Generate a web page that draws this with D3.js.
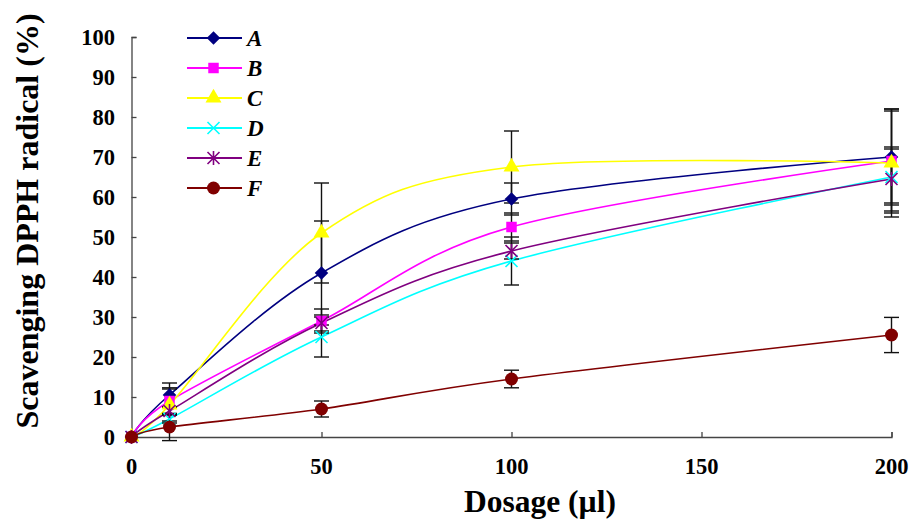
<!DOCTYPE html>
<html>
<head>
<meta charset="utf-8">
<script src="https://cdn.jsdelivr.net/npm/d3@7"></script>
<style>
  body { margin: 0; background: #fff; }
  svg text { font-family: "Liberation Serif", "Times New Roman", serif; font-weight: bold; }
</style>
</head>
<body>
<script>
// dosage (ul) on x
const dosage = [0, 10, 50, 100, 200];
const names = ["A", "B", "C", "D", "E", "F"];
const valuesA = [0, 10.5, 41, 59.5, 70];
const valuesB = [0, 9, 29, 52.5, 69];
const valuesC = [0, 8, 51, 67.5, 68.5];
const valuesD = [0, 4.5, 25, 44, 65];
const valuesE = [0, 6.5, 28.5, 46.5, 64.5];
const valuesF = [0, 2.5, 7, 14.5, 25.5];
const errA = [0, 3, 13, 4, 11.5];
const errB = [0, 3.3, 3, 3.5, 13];
const errC = [0, 4, 12.5, 9, 13.5];
const errD = [0, 1, 5, 6, 7];
const errE = [0, 1, 2, 2, 8];
const errF = [0, 3.4, 2, 2.2, 4.4];
const yTicks = [0, 10, 20, 30, 40, 50, 60, 70, 80, 90, 100];
const xTicks = [0, 50, 100, 150, 200];

const colors = ["#000080", "#ff00ff", "#ffff00", "#00ffff", "#800080", "#800000"];
const shapes = ["diamond", "square", "triangle", "cross", "star", "circle"];
const allValues = [valuesA, valuesB, valuesC, valuesD, valuesE, valuesF];
const allErr = [errA, errB, errC, errD, errE, errF];

const width = 911, height = 521;

const svg = d3.select("body").append("svg")
  .attr("width", width)
  .attr("height", height);

const x = d3.scaleLinear().domain([0, 200]).range([131.5, 891.5]);
const y = d3.scaleLinear().domain([0, 100]).range([437, 37]);

// axes
const yAxis = svg.append("g")
  .attr("transform", `translate(${x(0)},0)`)
  .call(d3.axisRight(y).tickValues(yTicks).tickSize(5).tickFormat(""));
const xAxis = svg.append("g")
  .attr("transform", `translate(0,${y(0)})`)
  .call(d3.axisTop(x).tickValues(xTicks).tickSize(5).tickFormat(""));
[yAxis, xAxis].forEach(g => {
  g.select(".domain").attr("stroke", "#444").attr("stroke-width", 1.3);
  g.selectAll(".tick line").attr("stroke", "#444").attr("stroke-width", 1.3);
});
xAxis.selectAll(".tick").filter(d => d === 0).select("line").remove();

svg.append("g").selectAll("text")
  .data(yTicks)
  .join("text")
  .attr("x", 115)
  .attr("y", d => y(d))
  .attr("dy", "0.35em")
  .attr("text-anchor", "end")
  .attr("font-size", 22.5)
  .text(d => d);

svg.append("g").selectAll("text")
  .data(xTicks)
  .join("text")
  .attr("x", d => x(d))
  .attr("y", 474)
  .attr("text-anchor", "middle")
  .attr("font-size", 22.5)
  .text(d => d);

svg.append("text")
  .attr("x", 540)
  .attr("y", 512)
  .attr("text-anchor", "middle")
  .attr("font-size", 31.5)
  .text("Dosage (\u00b5l)");

svg.append("text")
  .attr("transform", "translate(38,221) rotate(-90)")
  .attr("text-anchor", "middle")
  .attr("font-size", 32)
  .text("Scavenging DPPH radical (%)");

// lines
const line = d3.line()
  .x(d => x(d[0]))
  .y(d => y(d[1]))
  .curve(d3.curveCardinal.tension(0));

const lineG = svg.append("g");
allValues.forEach((vals, i) => {
  lineG.append("path")
    .attr("d", line(dosage.map((d, j) => [d, vals[j]])))
    .attr("fill", "none")
    .attr("stroke", colors[i])
    .attr("stroke-width", 1.6);
});

// error bars
const errG = svg.append("g").attr("stroke", "#111").attr("stroke-width", 1.4);
allValues.forEach((vals, i) => {
  dosage.forEach((d, j) => {
    const e = allErr[i][j];
    if (!e) return;
    const cx = x(d), top = y(vals[j] + e), bot = y(vals[j] - e);
    errG.append("line").attr("x1", cx).attr("x2", cx).attr("y1", top).attr("y2", bot);
    errG.append("line").attr("x1", cx - 7.5).attr("x2", cx + 7.5).attr("y1", top).attr("y2", top);
    errG.append("line").attr("x1", cx - 7.5).attr("x2", cx + 7.5).attr("y1", bot).attr("y2", bot);
  });
});

function drawMarker(g, shape, color, cx, cy) {
  if (shape === "diamond") {
    g.append("path").attr("d", d3.symbol(d3.symbolSquare, 92)())
      .attr("transform", `translate(${cx},${cy}) rotate(45)`).attr("fill", color);
  } else if (shape === "square") {
    g.append("path").attr("d", d3.symbol(d3.symbolSquare, 110)())
      .attr("transform", `translate(${cx},${cy})`).attr("fill", color);
  } else if (shape === "triangle") {
    g.append("path").attr("d", d3.symbol(d3.symbolTriangle, 110)())
      .attr("transform", `translate(${cx},${cy})`).attr("fill", color);
  } else if (shape === "cross") {
    g.append("path").attr("d", "M-6,-6L6,6M-6,6L6,-6")
      .attr("transform", `translate(${cx},${cy})`).attr("stroke", color).attr("stroke-width", 1.6);
  } else if (shape === "star") {
    g.append("path").attr("d", "M-6,-6L6,6M-6,6L6,-6M0,-7L0,7")
      .attr("transform", `translate(${cx},${cy})`).attr("stroke", color).attr("stroke-width", 1.6);
  } else {
    g.append("circle").attr("cx", cx).attr("cy", cy).attr("r", 6.5).attr("fill", color);
  }
}

const markG = svg.append("g");
allValues.forEach((vals, i) => {
  dosage.forEach((d, j) => drawMarker(markG, shapes[i], colors[i], x(d), y(vals[j])));
});

// legend
const legend = svg.append("g");
names.forEach((n, i) => {
  const ly = 38 + i * 30;
  legend.append("line")
    .attr("x1", 187).attr("x2", 242).attr("y1", ly).attr("y2", ly)
    .attr("stroke", colors[i]).attr("stroke-width", 2);
  drawMarker(legend, shapes[i], colors[i], 213.5, ly);
  legend.append("text")
    .attr("x", 247).attr("y", ly).attr("dy", "0.35em")
    .attr("font-size", 23).attr("font-style", "italic")
    .text(n);
});
</script>
</body>
</html>
